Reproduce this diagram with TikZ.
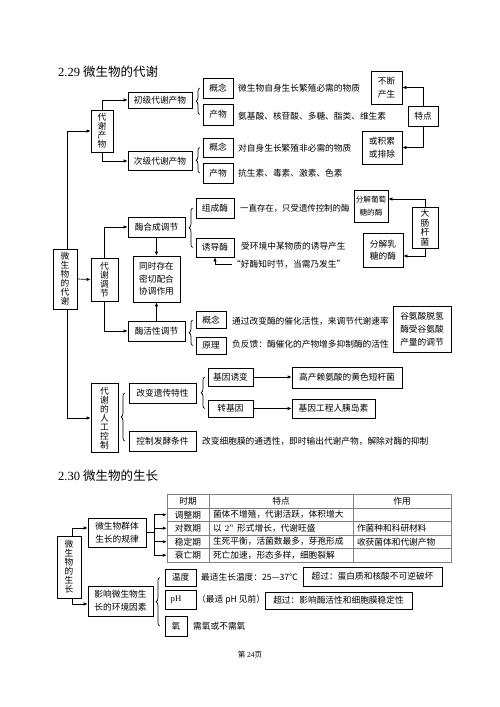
\documentclass[tikz,border=0pt]{standalone}
\usepackage{fontspec}
\setmainfont{Liberation Serif}
\newfontfamily\cjk{Noto Sans CJK SC}
\usetikzlibrary{arrows.meta,decorations.pathreplacing}
\begin{document}
\begin{tikzpicture}[x=1pt,y=-1pt,
  box/.style 2 args={draw, fill=white, line width=0.7pt, inner sep=0pt, align=center,
    minimum width=#1pt, minimum height=#2pt, font=\cjk\fontsize{8.7}{13}\selectfont},
  vbox/.style 2 args={box={#1}{#2}, font=\cjk\fontsize{8.7}{9}\selectfont},
  txt/.style={anchor=west, inner sep=0pt, font=\cjk\fontsize{8.7}{10}\selectfont},
  arr/.style={-{Latex[length=4pt,width=3.4pt]}, line width=0.7pt},
  ln/.style={line width=0.7pt},
  brc/.style={decorate, decoration={brace, amplitude=3.5pt}, line width=0.7pt},
  cellc/.style 2 args={draw=gray, line width=0.5pt, inner sep=0pt, align=center,
    minimum width=#1pt, minimum height=#2pt, font=\cjk\fontsize{8.7}{10}\selectfont},
  celll/.style={draw=gray, line width=0.5pt, inner xsep=4pt, inner ysep=0pt, align=left,
    text width=#1pt, minimum height=13.5pt, font=\cjk\fontsize{8.7}{10}\selectfont},
  ttl/.style={anchor=west, inner sep=0pt, font=\fontsize{12.5}{14}\selectfont}
]
\useasboundingbox (0,0) rectangle (500,707);
\fill[white] (0,0) rectangle (500,707);

% ---------- 2.29 ----------
\node[ttl] (title1) at (58,72) {2.29 {\cjk 微生物的代谢}};

\coordinate (mtop) at (67,131);
\coordinate (mbot) at (67,418);
\draw[ln] (mtop) -- (mbot);

\node[vbox={24}{60}] (A) at (65,279) {微\\生\\物\\的\\代\\谢};

% 代谢产物
\node[vbox={22}{42}] (B) at (102,131) {代\\谢\\产\\物};
\node[box={64}{16}] (C) at (160,100) {初级代谢产物};
\node[box={64}{19}] (D) at (160,161) {次级代谢产物};
\node[box={30}{20}] (E1) at (218,88) {概念};
\node[box={30}{21}] (E2) at (218,114.5) {产物};
\node[box={30}{19}] (E3) at (218,147.5) {概念};
\node[box={30}{20}] (E4) at (218,173) {产物};
\node[txt] (t1) at (238,88) {微生物自身生长繁殖必需的物质};
\node[txt] (t2) at (238,116) {氨基酸、核苷酸、多糖、脂类、维生素};
\node[txt] (t3) at (238,148) {对自身生长繁殖非必需的物质};
\node[txt] (t4) at (238,173) {抗生素、毒素、激素、色素};
\node[box={31}{33}] (F) at (386.5,87.5) {不断\\产生};
\node[box={30}{20}] (G) at (423,116) {特点};
\node[box={40}{33}] (H) at (382,147.5) {或积累\\或排除};

\draw[arr] (mtop) -- (B.west);
\draw[arr] (B.north) |- (C.west);
\draw[arr] (B.south) |- (D.west);
\draw[brc] ([xshift=-3pt]E2.west) -- ([xshift=-3pt]E1.west);
\draw[brc] ([xshift=-3pt]E4.west) -- ([xshift=-3pt]E3.west);
\draw[arr] (G.north) |- (F.east);
\draw[arr] (G.south) |- (H.east);

% 代谢调节
\node[vbox={27}{43}] (B2) at (104.5,279.5) {代\\谢\\调\\节};
\node[box={57}{20}] (I) at (156.5,227) {酶合成调节};
\node[box={57}{20}] (J) at (156.5,331) {酶活性调节};
\node[box={47}{46}, font=\cjk\fontsize{8.7}{12.5}\selectfont] (K) at (156.5,279) {同时存在\\密切配合\\协调作用};
\node[box={38}{20}] (L1) at (215,208) {组成酶};
\node[box={38}{19}] (L2) at (215,247.5) {诱导酶};
\node[txt, font=\cjk\fontsize{8.4}{10}\selectfont] (t5) at (240,208) {一直存在，只受遗传控制的酶};
\node[txt] (t6) at (241,246) {受环境中某物质的诱导产生};
\node[txt] (hao) at (232,264) {“好酶知时节，当需乃发生”};
\node[box={34}{32}, font=\cjk\fontsize{7.6}{13}\selectfont] (M) at (371,206) {分解葡萄\\糖的酶};
\node[box={40}{34}, font=\cjk\fontsize{8.7}{12}\selectfont] (N) at (383,250) {分解乳\\糖的酶};
\node[vbox={26}{41}, font=\cjk\fontsize{8.7}{9.5}\selectfont] (O) at (425,227.5) {大\\肠\\杆\\菌};
\node[box={30}{17}] (P1) at (211,320) {概念};
\node[box={30}{17}] (P2) at (211,345.5) {原理};
\node[txt] (t7) at (232,321) {通过改变酶的催化活性，来调节代谢速率};
\node[txt] (t8) at (232,344) {负反馈：酶催化的产物增多抑制酶的活性};
\node[box={58}{46}] (Q) at (422,329) {谷氨酸脱氢\\酶受谷氨酸\\产量的调节};

\draw[arr] (A.east) -- (B2.west);
\draw[arr] (B2.north) |- (I.west);
\draw[arr] (B2.south) |- (J.west);
\draw[arr] (I.south) -- (K.north);
\draw[arr] (J.north) -- (K.south);
\draw[brc] ([xshift=-3pt]L2.west) -- ([xshift=-3pt]L1.west);
\draw[brc] ([xshift=-3pt]P2.west) -- ([xshift=-3pt]P1.west);
\draw[arr] (hao.west) -| (L2.south);
\draw[arr] (O.north) |- ([yshift=7pt]M.east);
\draw[arr] (O.south) |- ([yshift=-6pt]N.east);

% 代谢的人工控制
\node[vbox={27}{69}] (R) at (104.5,418) {代\\谢\\的\\人\\工\\控\\制};
\node[box={67}{20}] (S1) at (162.5,393) {改变遗传特性};
\node[box={67}{20}] (S2) at (162.5,441) {控制发酵条件};
\node[box={45}{18}] (T1) at (230.5,377) {基因诱变};
\node[box={45}{17}] (T2) at (230.5,408.5) {转基因};
\node[box={110}{21}] (U1) at (347,377.5) {高产赖氨酸的黄色短杆菌};
\node[box={83}{19}] (U2) at (333.5,408.5) {基因工程人胰岛素};
\node[txt] (t9) at (202,441) {改变细胞膜的通透性，即时输出代谢产物，解除对酶的抑制};

\draw[arr] (mbot) -- (R.west);
\draw[brc] ([xshift=-4pt]S2.west) -- ([xshift=-4pt]S1.west);
\draw[brc] ([xshift=-3pt]T2.west) -- ([xshift=-3pt]T1.west);
\draw[arr] (T1.east) -- (T1.east -| U1.west);
\draw[arr] (T2.east) -- (T2.east -| U2.west);

% ---------- 2.30 ----------
\node[ttl] (title2) at (58,476) {2.30 {\cjk 微生物的生长}};

\node[vbox={24}{62}] (V) at (69,567) {微\\生\\物\\的\\生\\长};
\node[box={58}{29}] (W) at (117,532.5) {微生物群体\\生长的规律};
\node[box={65}{30}] (X) at (120.5,601) {影响微生物生\\长的环境因素};

% table
\node[cellc={42}{14}] (h1) at (188,501) {时期};
\node[cellc={144}{14}] (h2) at (281,501) {特点};
\node[cellc={98}{14}] (h3) at (402,501) {作用};
\node[cellc={42}{13.5}] (r1) at (188,514.75) {调整期};
\node[cellc={42}{13.5}] (r2) at (188,528.25) {对数期};
\node[cellc={42}{13.5}] (r3) at (188,541.75) {稳定期};
\node[cellc={42}{13.5}] (r4) at (188,555.25) {衰亡期};
\node[celll=136] (s1) at (281,514.75) {菌体不增殖，代谢活跃，体积增大};
\node[celll=136] (s2) at (281,528.25) {以 $2^n$ 形式增长，代谢旺盛};
\node[celll=136] (s3) at (281,541.75) {生死平衡，活菌数最多，芽孢形成};
\node[celll=136] (s4) at (281,555.25) {死亡加速，形态多样，细胞裂解};
\node[celll=90] (u1) at (402,514.75) {};
\node[celll=90] (u2) at (402,528.25) {作菌种和科研材料};
\node[celll=90] (u3) at (402,541.75) {收获菌体和代谢产物};
\node[celll=90] (u4) at (402,555.25) {};

\coordinate (vtop) at (72,528);
\coordinate (vbot) at (72,604);
\coordinate (bar) at (154,532.5);
\draw[arr] (vtop |- V.north) -- (vtop) -- (W.west |- vtop);
\draw[arr] (vbot |- V.south) -- (vbot) -- (X.west |- vbot);
\draw[ln] (W.east) -- (bar);
\draw[ln] (bar |- r1) -- (bar |- r4);
\draw[arr] (bar |- r1) -- (r1.west);
\draw[arr] (bar |- r2) -- (r2.west);
\draw[arr] (bar |- r3) -- (r3.west);
\draw[arr] (bar |- r4) -- (r4.west);

\node[box={31}{17}] (Y1) at (180.5,577.5) {温度};
\node[box={31}{19}, font=\fontsize{8.7}{10}\selectfont] (Y2) at (180.5,599.5) {pH\hspace{9pt}};
\node[box={22}{20}] (Y3) at (176,626) {氧};
\node[txt] (t10) at (201,577) {最适生长温度：25—37℃};
\node[box={139}{19}] (Z1) at (372.5,576.5) {超过：蛋白质和核酸不可逆破坏};
\node[txt] (t11) at (197,600) {（最适 pH 见前）};
\node[box={147}{17}] (Z2) at (338.5,600.5) {超过：影响酶活性和细胞膜稳定性};
\node[txt] (t12) at (193,626) {需氧或不需氧};
\draw[brc] ([xshift=-5pt]Y3.west -| Y1.west) -- ([xshift=-5pt]Y1.west);

\node[inner sep=0pt, font=\fontsize{7.5}{9}\selectfont] (foot) at (250,655) {{\cjk 第} 24{\cjk 页}};
\end{tikzpicture}
\end{document}
